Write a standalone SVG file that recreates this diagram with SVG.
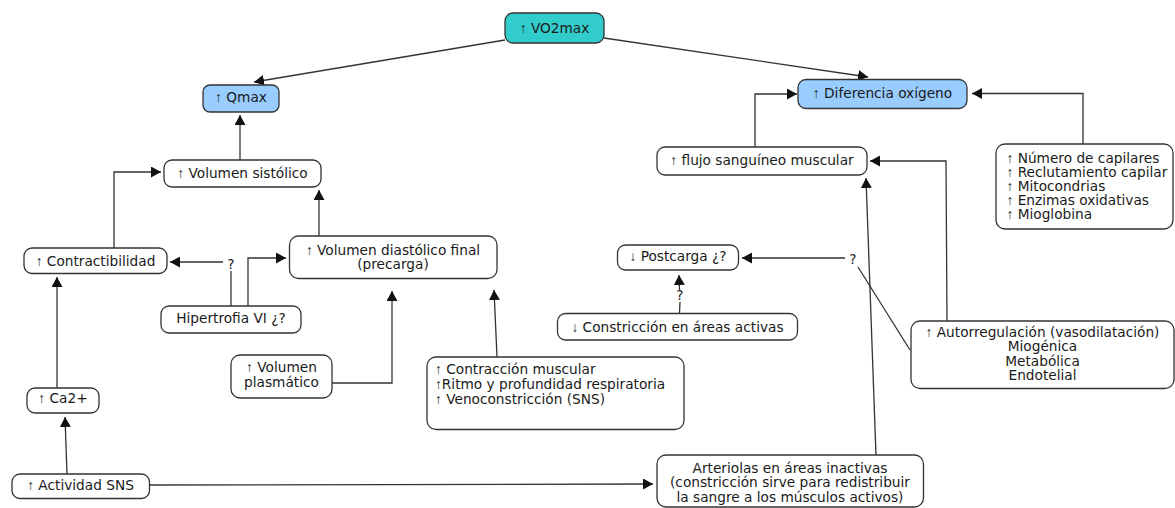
<svg xmlns="http://www.w3.org/2000/svg" width="1175" height="508" viewBox="0 0 1175 508">
<defs>
<marker id="ah" markerWidth="11" markerHeight="11" refX="10" refY="5.5" orient="auto" markerUnits="userSpaceOnUse">
<path d="M0,0 L10,5.5 L0,11 z" fill="#111"/>
</marker>
<style>
.box{fill:#fff;stroke:#333;stroke-width:1.3}
.teal{fill:#33CCCC}
.blue{fill:#99CCFF}
text{font-family:"DejaVu Sans",Verdana,sans-serif;font-size:13.7px;fill:#1a1a1a}
.c{text-anchor:middle}
.ar{font-family:"Liberation Sans",Arial,sans-serif}
.ln{fill:none;stroke:#333;stroke-width:1.3}
.m{marker-end:url(#ah)}
</style>
</defs>
<rect width="1175" height="508" fill="#fff"/>
<g id="connectors">
<line class="ln m" x1="505" y1="40" x2="254" y2="82"/>
<line class="ln m" x1="604" y1="38" x2="868" y2="77"/>
<line class="ln m" x1="240" y1="160" x2="240" y2="115"/>
<polyline class="ln m" points="114,248 114,172 161,172"/>
<line class="ln m" x1="319" y1="236" x2="319" y2="190"/>
<line class="ln" x1="231" y1="306" x2="231" y2="271"/>
<line class="ln m" x1="223" y1="262" x2="170" y2="262"/>
<text class="c" x="231" y="268.5">?</text>
<polyline class="ln m" points="248,306 248,258 286,258"/>
<polyline class="ln m" points="332,383 392,383 392,291"/>
<line class="ln m" x1="497" y1="357" x2="494" y2="290"/>
<line class="ln m" x1="57" y1="388" x2="57" y2="277"/>
<line class="ln m" x1="67" y1="474" x2="65" y2="417"/>
<line class="ln m" x1="149" y1="485" x2="653" y2="484"/>
<line class="ln m" x1="876" y1="455" x2="866" y2="178"/>
<polyline class="ln m" points="947,321 946,161 870,161"/>
<line class="ln" x1="910" y1="350" x2="858" y2="267"/>
<line class="ln m" x1="845" y1="258" x2="742" y2="258"/>
<text class="c" x="853" y="263.5">?</text>
<line class="ln" x1="679.5" y1="313" x2="680" y2="302"/>
<line class="ln m" x1="679.5" y1="290" x2="679" y2="275"/>
<text class="c" x="680" y="299.5">?</text>
<polyline class="ln m" points="755,147 755,94 797,94"/>
<polyline class="ln m" points="1083,144 1083,93.5 972,93.5"/>
</g>
<g id="vo2max">
<rect class="box teal" x="505" y="13" width="99" height="30" rx="8"/>
<text class="c" x="554.5" y="33"><tspan class="ar">↑</tspan> VO2max</text>
</g>
<g id="qmax">
<rect class="box blue" x="203" y="85" width="76" height="27" rx="7"/>
<text class="c" x="241" y="102"><tspan class="ar">↑</tspan> Qmax</text>
</g>
<g id="diferencia">
<rect class="box blue" x="798" y="79.5" width="169" height="29" rx="8"/>
<text class="c" x="882.5" y="97.5"><tspan class="ar">↑</tspan> Diferencia oxígeno</text>
</g>
<g id="volumen-sistolico">
<rect class="box" x="164" y="160" width="157" height="27" rx="8"/>
<text class="c" x="242.5" y="178"><tspan class="ar">↑</tspan> Volumen sistólico</text>
</g>
<g id="contractibilidad">
<rect class="box" x="24" y="248" width="143" height="25.5" rx="8"/>
<text class="c" x="95.5" y="265.5"><tspan class="ar">↑</tspan> Contractibilidad</text>
</g>
<g id="volumen-diastolico">
<rect class="box" x="289.5" y="236" width="207.5" height="42.5" rx="9"/>
<text class="c" x="393" y="255"><tspan class="ar">↑</tspan> Volumen diastólico final</text>
<text class="c" x="393" y="269">(precarga)</text>
</g>
<g id="hipertrofia">
<rect class="box" x="161" y="306" width="140" height="27" rx="8"/>
<text class="c" x="231" y="323">Hipertrofia VI ¿?</text>
</g>
<g id="volumen-plasmatico">
<rect class="box" x="231" y="355" width="101" height="43" rx="9"/>
<text class="c" x="281.5" y="372"><tspan class="ar">↑</tspan> Volumen</text>
<text class="c" x="281.5" y="386.5">plasmático</text>
</g>
<g id="contraccion">
<rect class="box" x="427" y="357" width="257" height="72.5" rx="9"/>
<text x="435" y="374"><tspan class="ar">↑</tspan> Contracción muscular</text>
<text x="435" y="389"><tspan class="ar">↑</tspan>Ritmo y profundidad respiratoria</text>
<text x="435" y="404"><tspan class="ar">↑</tspan> Venoconstricción (SNS)</text>
</g>
<g id="ca2">
<rect class="box" x="27" y="388" width="72" height="25" rx="8"/>
<text class="c" x="63" y="403"><tspan class="ar">↑</tspan> Ca2+</text>
</g>
<g id="actividad-sns">
<rect class="box" x="12" y="474" width="137.5" height="24.5" rx="8"/>
<text class="c" x="80.5" y="490"><tspan class="ar">↑</tspan> Actividad SNS</text>
</g>
<g id="arteriolas">
<rect class="box" x="657" y="455" width="266.5" height="52" rx="9"/>
<text class="c" x="790" y="472.5">Arteriolas en áreas inactivas</text>
<text class="c" x="790" y="487">(constricción sirve para redistribuir</text>
<text class="c" x="790" y="501.5">la sangre a los músculos activos)</text>
</g>
<g id="flujo">
<rect class="box" x="657" y="147" width="210" height="28" rx="8"/>
<text class="c" x="762" y="165"><tspan class="ar">↑</tspan> flujo sanguíneo muscular</text>
</g>
<g id="capilares">
<rect class="box" x="996" y="144" width="177" height="85" rx="9"/>
<text x="1006.5" y="162.5"><tspan class="ar">↑</tspan> Número de capilares</text>
<text x="1006.5" y="176.5"><tspan class="ar">↑</tspan> Reclutamiento capilar</text>
<text x="1006.5" y="190.5"><tspan class="ar">↑</tspan> Mitocondrias</text>
<text x="1006.5" y="204.5"><tspan class="ar">↑</tspan> Enzimas oxidativas</text>
<text x="1006.5" y="218.5"><tspan class="ar">↑</tspan> Mioglobina</text>
</g>
<g id="postcarga">
<rect class="box" x="617.5" y="245" width="121" height="25" rx="8"/>
<text class="c" x="678" y="261"><tspan class="ar">↓</tspan> Postcarga ¿?</text>
</g>
<g id="constriccion">
<rect class="box" x="557.5" y="313.5" width="240" height="26.5" rx="8"/>
<text class="c" x="677.5" y="331.5"><tspan class="ar">↓</tspan> Constricción en áreas activas</text>
</g>
<g id="autorregulacion">
<rect class="box" x="911" y="321" width="263" height="67.5" rx="9"/>
<text class="c" x="1042.5" y="336.5"><tspan class="ar">↑</tspan> Autorregulación (vasodilatación)</text>
<text class="c" x="1042.5" y="351">Miogénica</text>
<text class="c" x="1042.5" y="365.5">Metabólica</text>
<text class="c" x="1042.5" y="379.5">Endotelial</text>
</g>
</svg>
